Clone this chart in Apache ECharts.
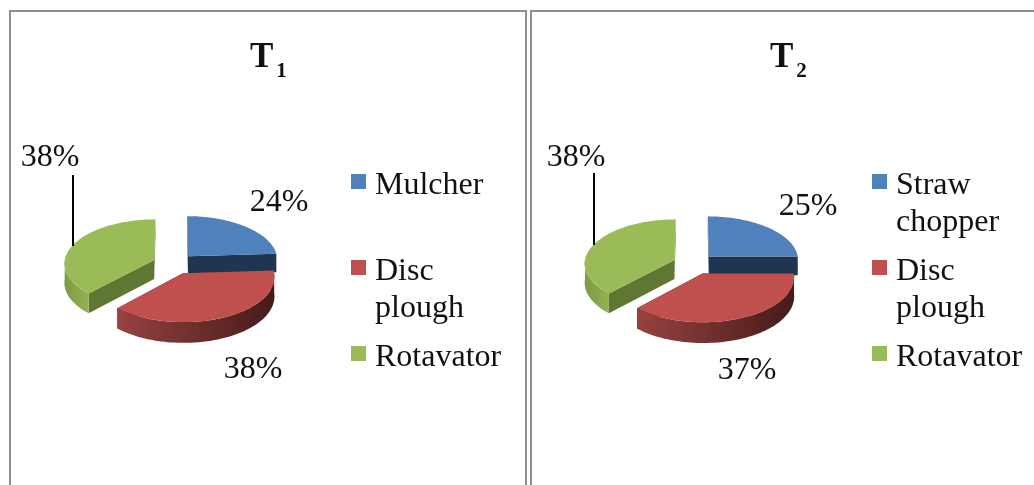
<!DOCTYPE html>
<html>
<head>
<meta charset="utf-8">
<style>html,body{margin:0;padding:0;background:#fff}#chart{width:1034px;height:485px}</style>
<script src="https://cdn.jsdelivr.net/npm/echarts@6/dist/echarts.min.js"></script>
</head>
<body>
<div id="chart"></div>
<script>
// Machinery share per treatment
const namesT1 = ['Mulcher', 'Disc plough', 'Rotavator'];
const valuesT1 = [24, 38, 38];
const namesT2 = ['Straw chopper', 'Disc plough', 'Rotavator'];
const valuesT2 = [25, 37, 38];

const SERIF = '"Liberation Serif", "Times New Roman", serif';
const TEXT = '#111';

// Colours per slice position: top face, radial wall, rim gradient ends
const faces = [
  { top: '#4F81BD', wall: '#1F3552', rim: ['#1F3552', '#1F3552'] },
  { top: '#C0504D', wall: '#5a2422', rim: ['#97423F', '#451B1A'] },
  { top: '#9BBB59', wall: '#5F7733', rim: ['#7F9A44', '#93B153'] }
];

// Projection of the tilted pie onto the page
const RX = 90, RY = 44, TILT = 0.07, DEPTH = 19, EXPLODE = 0.235;

function project(cx, cy, u, v, drop) {
  const w = 1 - TILT * v;
  return [cx + RX * u / w, cy + RY * v / w + (drop ? DEPTH / w : 0)];
}

function rad(deg) { return deg * Math.PI / 180; }

// One exploded slice: walls first, then the top face and its label
function sliceShape(panel, a0, a1, face, value, labelPos, leader) {
  const mid = rad((a0 + a1) / 2);
  const ou = EXPLODE * Math.sin(mid), ov = -EXPLODE * Math.cos(mid);
  const at = (deg, r) => [ou + r * Math.sin(rad(deg)), ov - r * Math.cos(rad(deg))];
  const pt = (deg, r, drop) => {
    const p = at(deg, r);
    return project(panel.cx, panel.cy, p[0], p[1], drop);
  };
  const range = (from, to) => {
    const out = [];
    const n = Math.max(1, Math.ceil((to - from) / 2));
    for (let i = 0; i <= n; i++) out.push(from + (to - from) * i / n);
    return out;
  };
  const children = [];
  const radialWall = deg => ({
    type: 'polygon',
    shape: { points: [pt(deg, 0, false), pt(deg, 1, false), pt(deg, 1, true), pt(deg, 0, true)] },
    style: { fill: face.wall }
  });
  children.push(radialWall(a0), radialWall(a1));

  // Outer rim is visible only where it faces the viewer
  const from = Math.max(a0, 90), to = Math.min(a1, 270);
  if (to > from) {
    const arc = range(from, to);
    const pts = arc.map(d => pt(d, 1, false)).concat(arc.slice().reverse().map(d => pt(d, 1, true)));
    children.push({
      type: 'polygon',
      shape: { points: pts },
      style: {
        fill: {
          type: 'linear', x: 0, y: 0, x2: 1, y2: 0,
          colorStops: [{ offset: 0, color: face.rim[0] }, { offset: 1, color: face.rim[1] }]
        }
      }
    });
  }

  const topPts = [pt(a0, 0, false)].concat(range(a0, a1).map(d => pt(d, 1, false)));
  children.push({ type: 'polygon', shape: { points: topPts }, style: { fill: face.top } });

  if (leader) {
    children.push({
      type: 'line',
      shape: { x1: leader[0], y1: leader[1], x2: leader[0], y2: leader[2] },
      style: { stroke: '#000', lineWidth: 2 }
    });
  }
  children.push({
    type: 'text',
    style: {
      text: value + '%', x: labelPos[0], y: labelPos[1],
      align: 'center', verticalAlign: 'middle',
      font: '32px ' + SERIF, fill: TEXT
    }
  });
  return { type: 'group', children };
}

const panels = [
  {
    names: namesT1, values: valuesT1, cx: 173.7, cy: 263.8, title: '1', titleLeft: 250, legendLeft: 351,
    labels: [[279, 203], [253, 370], [50, 158]], leader: [73, 175, 246]
  },
  {
    names: namesT2, values: valuesT2, cx: 694, cy: 263.8, title: '2', titleLeft: 770, legendLeft: 872,
    labels: [[808, 207], [747, 371], [576, 158]], leader: [594, 173, 245]
  }
];

const series = [];
panels.forEach(panel => {
  const total = panel.values.reduce((a, b) => a + b, 0);
  let start = 0;
  const spans = panel.values.map(v => {
    const s = [start, start + v / total * 360];
    start = s[1];
    return s;
  });
  // Back slices are painted first so the front one overlaps them
  [0, 2, 1].forEach(i => {
    series.push({
      type: 'custom',
      name: panel.names[i],
      coordinateSystem: 'none',
      silent: true,
      itemStyle: { color: faces[i].top },
      data: [panel.values[i]],
      renderItem: (params, api) => sliceShape(
        panel, spans[i][0], spans[i][1], faces[i], api.value(0),
        panel.labels[i], i === 2 ? panel.leader : null
      )
    });
  });
});

// Every legend entry takes three lines so the icon sits beside the first word;
// the taller spacer line drops the words slightly below the icon's centre
function legendLabel(name) {
  const words = name.split(' ');
  return '{gap|\u00a0}\n{w|' + words[0] + '}\n{w|' + (words[1] || '\u00a0') + '}';
}

const legendWord = { fontFamily: SERIF, fontSize: 32, lineHeight: 37, color: TEXT };

const option = {
  animation: false,
  backgroundColor: '#fff',
  title: panels.map(p => ({
    text: '{t|T}{s|' + p.title + '}',
    left: p.titleLeft, top: 40, padding: 0,
    textStyle: {
      rich: {
        t: { fontFamily: SERIF, fontSize: 35, fontWeight: 'bold', color: TEXT, verticalAlign: 'bottom', padding: [0, 0, 7, 0] },
        s: { fontFamily: SERIF, fontSize: 21, fontWeight: 'bold', color: TEXT, verticalAlign: 'bottom', padding: [0, 0, 0, 3] }
      }
    }
  })),
  legend: panels.map(p => ({
    data: p.names,
    orient: 'vertical',
    left: p.legendLeft, top: 128.5, padding: 0,
    itemWidth: 15, itemHeight: 15, itemGap: -24,
    icon: 'rect',
    selectedMode: false,
    formatter: legendLabel,
    textStyle: {
      padding: [0, 0, 0, 4],
      rich: { w: legendWord, gap: { fontFamily: SERIF, fontSize: 32, lineHeight: 45 } }
    }
  })),
  graphic: [
    { type: 'rect', silent: true, shape: { x: 10, y: 11, width: 516, height: 600 }, style: { fill: 'none', stroke: '#8e8e8e', lineWidth: 2 } },
    { type: 'rect', silent: true, shape: { x: 531, y: 11, width: 600, height: 600 }, style: { fill: 'none', stroke: '#8e8e8e', lineWidth: 2 } }
  ],
  series
};

echarts.init(document.getElementById('chart'), null, { renderer: 'canvas' }).setOption(option);
</script>
</body>
</html>
